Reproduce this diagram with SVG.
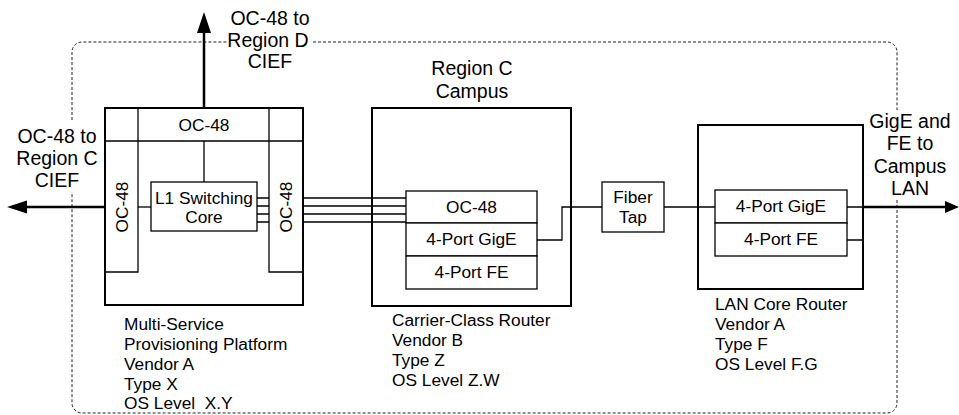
<svg xmlns="http://www.w3.org/2000/svg" width="959" height="415" viewBox="0 0 959 415">
<style>
text{font-family:"Liberation Sans",Arial,Helvetica,sans-serif;font-size:17.3px;fill:#000}
.c{text-anchor:middle}
.big{font-size:19.5px}
.box{fill:#fff;stroke:#000;stroke-width:2}
.in{fill:#fff;stroke:#000;stroke-width:1.3}
.ln{fill:none;stroke:#000;stroke-width:1.3}
.thick{fill:none;stroke:#000;stroke-width:2.5}
.dash{fill:none;stroke:#222;stroke-width:1;stroke-dasharray:3 2}
.pre{white-space:pre}
</style>
<rect width="959" height="415" fill="#fff"/>
<g id="boundary">
<path class="dash" d="M72,120 V52 A10,10 0 0 1 82,42 H228"/>
<path class="dash" d="M313,42 H887 A10,10 0 0 1 897,52 V110"/>
<path class="dash" d="M897,200 V403 A10,10 0 0 1 887,413 H82 A10,10 0 0 1 72,403 V192"/>
</g>
<g id="mspp">
<rect class="box" x="105" y="108" width="198" height="197"/>
<path class="ln" d="M105,141 H303 M138,108 V272 H105 M269,108 V272 H303"/>
<text class="c" x="204" y="130.5">OC-48</text>
<text class="c" transform="translate(127.5,207) rotate(-90)">OC-48</text>
<text class="c" transform="translate(292,207) rotate(-90)">OC-48</text>
<g id="l1core">
<rect class="in" x="151" y="182" width="106" height="49"/>
<text class="c" x="204" y="204">L1 Switching</text>
<text class="c" x="204" y="223">Core</text>
</g>
<text x="124" y="330">Multi-Service</text>
<text x="124" y="350">Provisioning Platform</text>
<text x="124" y="370">Vendor A</text>
<text x="124" y="390">Type X</text>
<text x="124" y="409" class="pre">OS Level  X.Y</text>
</g>
<g id="carrier-router">
<rect class="box" x="372" y="108" width="199" height="198"/>
<rect class="in" x="406" y="191" width="131" height="32"/>
<rect class="in" x="406" y="223" width="131" height="33"/>
<rect class="in" x="406" y="256" width="131" height="33"/>
<text class="c" x="471.5" y="213">OC-48</text>
<text class="c" x="471.5" y="245">4-Port GigE</text>
<text class="c" x="471.5" y="278">4-Port FE</text>
<text class="c big" x="472" y="75">Region C</text>
<text class="c big" x="472" y="98">Campus</text>
<text x="392" y="326">Carrier-Class Router</text>
<text x="392" y="346">Vendor B</text>
<text x="392" y="366">Type Z</text>
<text x="392" y="386">OS Level Z.W</text>
</g>
<g id="fiber-tap">
<rect class="in" x="602" y="182" width="62" height="50"/>
<text class="c" x="633" y="203">Fiber</text>
<text class="c" x="633" y="223">Tap</text>
</g>
<g id="lan-router">
<rect class="box" x="698" y="125" width="165" height="164"/>
<rect class="in" x="715" y="190" width="132" height="33"/>
<rect class="in" x="715" y="223" width="132" height="33"/>
<text class="c" x="781" y="212">4-Port GigE</text>
<text class="c" x="781" y="245">4-Port FE</text>
<text x="715" y="310">LAN Core Router</text>
<text x="715" y="330">Vendor A</text>
<text x="715" y="350">Type F</text>
<text x="715" y="370">OS Level F.G</text>
</g>
<g id="labels">
<text class="c big" x="270" y="25">OC-48 to</text>
<text class="c big" x="268" y="47">Region D</text>
<text class="c big" x="270" y="68">CIEF</text>
<text class="c big" x="57" y="143">OC-48 to</text>
<text class="c big" x="57" y="165">Region C</text>
<text class="c big" x="57" y="187">CIEF</text>
<text class="c big" x="910" y="128">GigE and</text>
<text class="c big" x="910" y="150">FE to</text>
<text class="c big" x="910" y="173">Campus</text>
<text class="c big" x="910" y="195">LAN</text>
</g>
<g id="connectors">
<path class="ln" d="M204,141 V182"/>
<path class="ln" d="M138,207 H151"/>
<path class="ln" d="M257,198 H269 M257,206 H269 M257,214 H269 M257,222 H269"/>
<path class="ln" d="M303,198 H406 M303,206 H406 M303,214 H406 M303,222 H406"/>
<path class="ln" d="M537,240 H562 V207 H602"/>
<path class="ln" d="M664,207 H715"/>
<path class="ln" d="M847,207 H863 M847,240 H863"/>
<path class="thick" d="M204,108 V30"/>
<polygon points="204,12 197,33 211,33"/>
<path class="thick" d="M105,207 H25"/>
<polygon points="7,207 27,200.5 27,213.5"/>
<path class="thick" d="M863,207 H947"/>
<polygon points="959,207 945,201 945,213"/>
</g>
</svg>
